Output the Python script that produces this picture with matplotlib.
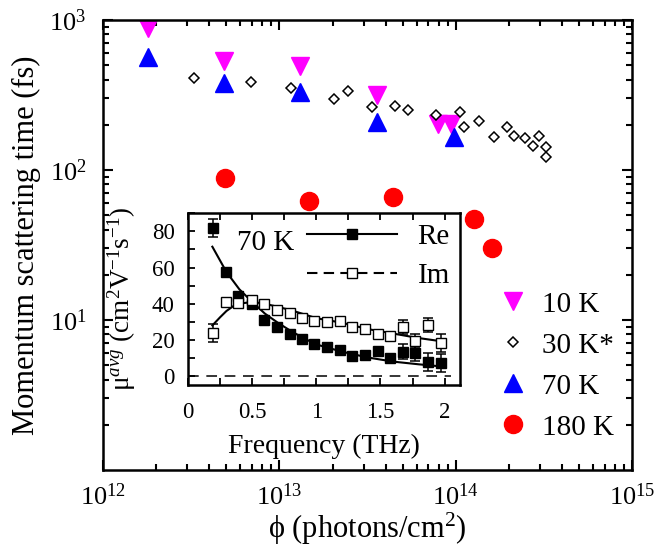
import matplotlib
matplotlib.use("Agg")
import matplotlib.pyplot as plt
import numpy as np
from matplotlib.ticker import LogLocator, NullFormatter, MultipleLocator

plt.rcParams["font.family"] = ["Liberation Serif", "DejaVu Serif"]
plt.rcParams["mathtext.fontset"] = "custom"
plt.rcParams["mathtext.rm"] = "Liberation Serif"
plt.rcParams["mathtext.it"] = "Liberation Serif:italic"
plt.rcParams["mathtext.bf"] = "Liberation Serif:bold"

# ---- main panel: momentum scattering time vs fluence ----
phi_10K = [1.81e12, 4.87e12, 1.30e13, 3.56e13, 7.9e13, 9.4e13]
tau_10K = [885, 533, 494, 316, 203, 203]

phi_30K = [3.28e12, 6.91e12, 1.165e13, 2.03e13, 2.44e13, 3.37e13, 4.53e13,
           5.39e13, 7.71e13, 1.05e14, 1.11e14, 1.36e14, 1.65e14, 1.95e14,
           2.14e14, 2.47e14, 2.74e14, 2.98e14, 3.26e14, 3.26e14]
tau_30K = [408, 384, 351, 299, 336, 262, 267, 249, 233, 244, 194, 213, 166,
           194, 169, 162, 145, 167, 142, 121]

phi_70K = [1.81e12, 4.87e12, 1.30e13, 3.56e13, 9.8e13]
tau_70K = [567, 380, 329, 207, 166]

phi_180K = [4.90e12, 1.47e13, 4.40e13, 1.27e14, 1.61e14]
tau_180K = [88, 62.4, 66.4, 47.1, 30.1]

# ---- inset: mobility spectrum at 70 K ----
freq = [0.195, 0.30, 0.393, 0.495, 0.59, 0.69, 0.794, 0.885, 0.98, 1.083,
        1.185, 1.279, 1.38, 1.479, 1.576, 1.674, 1.771, 1.872, 1.97]
mu_re = [81.8, 57.8, 44.3, 39.7, 31.0, 27.0, 23.1, 20.5, 17.7, 15.9, 14.4,
         11.1, 11.6, 14.0, 9.8, 13.5, 12.6, 7.9, 7.4]
mu_re_err = [5, 1.5, 1.5, 1.2, 1.2, 1, 1, 1, 1, 1, 1, 1, 1.5, 1.5, 2, 4, 4, 5, 5]
mu_im = [24.0, 41.2, 40.3, 41.8, 39.7, 36.6, 35.1, 32.3, 30.5, 30.1, 30.5,
         27.0, 25.9, 23.3, 22.2, 27.0, 19.4, 28.3, 18.5]
mu_im_err = [5, 1.5, 1.5, 1.2, 1.2, 1, 1, 1, 1, 1, 1, 1, 1.5, 1.5, 2, 4, 4, 4, 5]

fit_f = [0.19, 0.3, 0.4, 0.5, 0.6, 0.7, 0.8, 0.9, 1.0, 1.2, 1.4, 1.6, 1.8, 1.95]
fit_re = [71.5, 57.5, 48, 41, 34.5, 29.5, 25, 21, 17.5, 13.5, 10.3, 8, 6.5, 5.5]
fit_f_im = [0.19, 0.25, 0.3, 0.35, 0.4, 0.5, 0.6, 0.8, 1.0, 1.2, 1.4, 1.6, 1.8, 1.95]
fit_im = [28, 32.5, 36, 38.5, 40, 41, 40, 36.5, 32, 29.5, 26, 23.5, 21, 19.5]
zero_f = [0.0, 2.05]
zero_v = [0.0, 0.0]

fig = plt.figure(figsize=(6.69, 5.51), dpi=100)
ax = fig.add_axes([0.154, 0.147, 0.791, 0.817])

ax.plot(phi_10K, tau_10K, ls="none", marker="v", ms=13, color="#ff00ff",
        mec="#ff00ff", label="10 K")
ax.plot(phi_30K, tau_30K, ls="none", marker="D", ms=5.5, mfc="white",
        mec="black", mew=1.1, label="30 K*")
ax.plot(phi_70K, tau_70K, ls="none", marker="^", ms=13, color="#0000ff",
        label="70 K")
ax.plot(phi_180K, tau_180K, ls="none", marker="o", ms=13, color="#ff0000",
        label="180 K")

ax.set_xscale("log")
ax.set_yscale("log")
ax.set_xlim(1e12, 1e15)
ax.set_ylim(1, 1e3)
ax.xaxis.set_major_locator(LogLocator(base=10, numticks=10))
ax.xaxis.set_minor_locator(LogLocator(base=10, subs=np.arange(2, 10), numticks=20))
ax.yaxis.set_major_locator(LogLocator(base=10, numticks=10))
ax.yaxis.set_minor_locator(LogLocator(base=10, subs=np.arange(2, 10), numticks=20))
ax.xaxis.set_minor_formatter(NullFormatter())
ax.yaxis.set_minor_formatter(NullFormatter())
ax.set_yticks([10, 100, 1000])
ax.set_yticklabels([r"$10^1$", r"$10^2$", r"$10^3$"])
ax.tick_params(which="both", direction="in", top=True, right=True, width=1.5,
               labelsize=19)
ax.tick_params(axis="x", which="major", length=7, pad=10)
ax.tick_params(axis="y", which="major", length=7, pad=12)
ax.tick_params(which="minor", length=4)
for s in ax.spines.values():
    s.set_linewidth(1.8)
ax.set_xlabel("ϕ (photons/cm$^2$)", fontsize=22, labelpad=0)
ax.set_ylabel("Momentum scattering time (fs)", fontsize=22, labelpad=6)

ax.legend(loc="lower right", bbox_to_anchor=(1.005, 0.02), frameon=False,
          fontsize=21, handletextpad=0.4, labelspacing=0.5, borderpad=0.2,
          handlelength=1.2)

# ---- inset ----
ins = fig.add_axes([0.281, 0.301, 0.4066, 0.312])
ins.plot(fit_f, fit_re, color="black", lw=1.5)
ins.plot(fit_f_im, fit_im, color="black", lw=1.5)
ins.plot(zero_f, zero_v, color="black", lw=1.1, dashes=(7, 5))
ins.errorbar(freq, mu_re, yerr=mu_re_err, fmt="s", ms=7, color="black",
             mfc="black", ecolor="black", elinewidth=1.1, capsize=3.5, capthick=1.1)
ins.errorbar(freq, mu_im, yerr=mu_im_err, fmt="s", ms=7, color="black",
             mfc="white", ecolor="black", elinewidth=1.1, capsize=3.5, capthick=1.1)

h_re, = ins.plot([], [], color="black", lw=1.5, marker="s", ms=7, label="Re")
h_im, = ins.plot([], [], color="black", lw=1.5, dashes=(5, 3), marker="s", ms=7,
                 mfc="white", label="Im")
ins.legend(handles=[h_re, h_im], loc="upper right", frameon=False, fontsize=21,
           handlelength=3.1, handletextpad=0.7, labelspacing=0.45,
           borderpad=0.1, borderaxespad=0.25)
ins.text(0.18, 0.826, "70 K", transform=ins.transAxes, fontsize=21,
         ha="left", va="center")

ins.set_xlim(0, 2.12)
ins.set_ylim(-5, 90)
ins.xaxis.set_major_locator(MultipleLocator(0.5))
ins.xaxis.set_minor_locator(MultipleLocator(0.25))
ins.yaxis.set_major_locator(MultipleLocator(20))
ins.yaxis.set_minor_locator(MultipleLocator(10))
ins.set_xticks([0, 0.5, 1, 1.5, 2])
ins.set_xticklabels(["0", "0.5", "1", "1.5", "2"])
ins.tick_params(which="both", direction="in", top=True, right=False, width=1.3,
                labelsize=16.5)
ins.tick_params(axis="x", which="major", length=5, pad=12)
ins.tick_params(axis="y", which="major", length=5, pad=9.5)
ins.tick_params(which="minor", length=5)
for s in ins.spines.values():
    s.set_linewidth(1.8)
ins.set_xlabel("Frequency (THz)", fontsize=20, labelpad=8)
ins.set_ylabel(r"μ$^{avg}$ (cm$^2$V$^{-1}$s$^{-1}$)", fontsize=19.5, labelpad=10)

fig.savefig("out.png", dpi=100)
